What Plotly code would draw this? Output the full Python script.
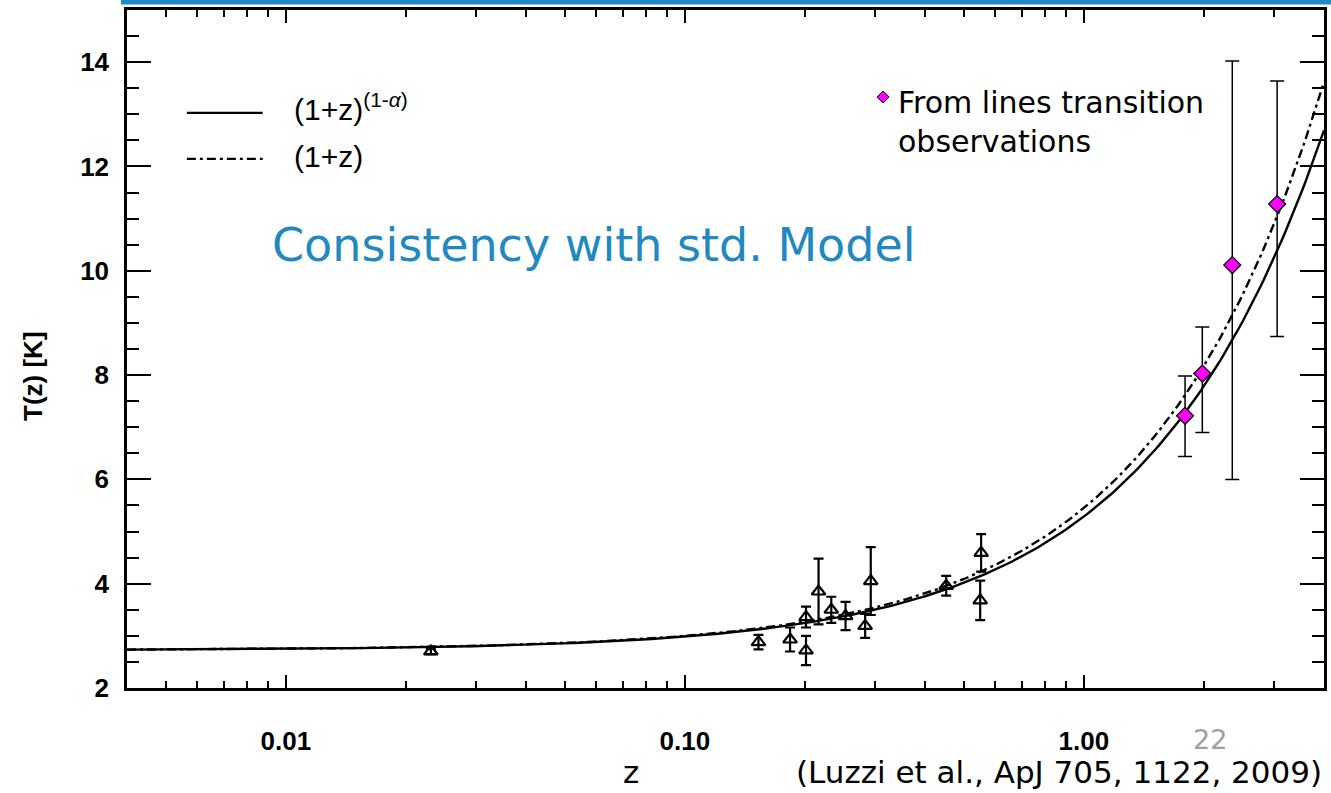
import numpy as np
import plotly.graph_objects as go

# ---- data ----
z_tri = [0.0231, 0.153, 0.1836, 0.2013, 0.2013, 0.2164, 0.2329, 0.2529, 0.2832, 0.2925, 0.452, 0.553, 0.550]
T_tri = [2.70, 2.88, 2.93, 3.36, 2.72, 3.85, 3.50, 3.38, 3.19, 4.05, 3.96, 4.59, 3.68]
err_tri = [0.05, 0.14, 0.23, 0.20, 0.28, 0.63, 0.25, 0.27, 0.23, 0.65, 0.19, 0.36, 0.38]

z_dia = [1.794, 1.982, 2.356, 3.052]
T_dia = [7.22, 8.03, 10.11, 11.28]
err_dia_plus = [0.76, 0.89, 3.91, 2.36]
err_dia_minus = [0.78, 1.13, 4.11, 2.54]

# model curves T(z) = T0 (1+z)^(1-alpha)
T0 = 2.725
ALPHA = 0.044
z_model = np.logspace(np.log10(0.004), np.log10(4.0), 400)
T_alpha = T0 * (1 + z_model) ** (1 - ALPHA)
T_std = T0 * (1 + z_model)

x_ticks = [0.01, 0.1, 1.0]
x_ticklabels = ["0.01", "0.10", "1.00"]
y_ticks = [2, 4, 6, 8, 10, 12, 14]

minor_x = [m * d for d in (0.001, 0.01, 0.1, 1.0) for m in range(2, 10) if 0.004 <= m * d <= 4.0]
minor_y = [v / 2 for v in range(4, 31) if v % 4 != 0]

fig = go.Figure()

fig.add_trace(go.Scatter(x=z_model, y=T_alpha, mode="lines",
                         line=dict(color="black", width=2.4), showlegend=False))
fig.add_trace(go.Scatter(x=z_model, y=T_std, mode="lines",
                         line=dict(color="black", width=2.4, dash="9px,4px,3px,4px"), showlegend=False))

fig.add_trace(go.Scatter(
    x=z_tri, y=T_tri, mode="markers",
    marker=dict(symbol="triangle-up-open", size=12, color="black", line=dict(width=2.2, color="black")),
    error_y=dict(type="data", array=err_tri, visible=True, color="black", thickness=2.2, width=5),
    showlegend=False))

fig.add_trace(go.Scatter(
    x=z_dia, y=T_dia, mode="markers",
    marker=dict(symbol="diamond", size=13, color="#FF00FF", line=dict(width=1.3, color="black")),
    error_y=dict(type="data", array=err_dia_plus, arrayminus=err_dia_minus, visible=True,
                 color="black", thickness=1.5, width=7),
    showlegend=False))

axis_font = dict(family="Liberation Sans, Arial, sans-serif", size=26, color="black", weight="bold")

fig.update_xaxes(
    type="log", range=[np.log10(0.004), np.log10(4.0)],
    tickvals=x_ticks, ticktext=x_ticklabels,
    ticks="inside", ticklen=13, tickwidth=2, tickcolor="black",
    minor=dict(tickvals=minor_x, ticks="inside", ticklen=7, tickwidth=2, tickcolor="black"),
    showline=True, linewidth=2.5, linecolor="black", mirror="allticks",
    showgrid=False, zeroline=False, tickfont=axis_font, ticklabelstandoff=28)

fig.update_yaxes(
    range=[2, 15], tickvals=y_ticks,
    ticks="inside", ticklen=24, tickwidth=2, tickcolor="black",
    minor=dict(tickvals=minor_y, ticks="inside", ticklen=12, tickwidth=2, tickcolor="black"),
    showline=True, linewidth=2.5, linecolor="black", mirror="allticks",
    showgrid=False, zeroline=False, tickfont=axis_font, ticklabelstandoff=10)

W, H = 1331, 793
L, R, T, B = 127, 4, 10, 104.5
pw, ph = W - L - R, H - T - B

def px(x):
    return (x - L) / pw

def py(y):
    return (H - B - y) / ph

shapes = []
# blue header bar
shapes.append(dict(type="line", xref="paper", yref="paper", x0=px(121), x1=px(1335), y0=py(2), y1=py(2),
                   line=dict(color="#1E8BC3", width=5)))
# legend lines
shapes.append(dict(type="line", xref="paper", yref="paper", x0=px(187), x1=px(263), y0=py(113), y1=py(113),
                   line=dict(color="black", width=2.4)))
shapes.append(dict(type="line", xref="paper", yref="paper", x0=px(187), x1=px(263), y0=py(159), y1=py(159),
                   line=dict(color="black", width=2.4, dash="9px,4px,3px,4px")))
# magenta bullet
cx, cy, hs = 885, 97, 6
shapes.append(dict(type="path", xref="paper", yref="paper",
                   path=f"M {px(cx-hs)},{py(cy)} L {px(cx)},{py(cy-hs)} L {px(cx+hs)},{py(cy)} L {px(cx)},{py(cy+hs)} Z",
                   fillcolor="#FF00FF", line=dict(color="black", width=1)))

annotations = [
    dict(text="(1+z)<sup>(1-<i>α</i>)</sup>", x=px(292), y=py(107), xref="paper", yref="paper",
         xanchor="left", yanchor="middle", showarrow=False,
         font=dict(family="Liberation Sans, Arial, sans-serif", size=30, color="black")),
    dict(text="(1+z)", x=px(292), y=py(157), xref="paper", yref="paper",
         xanchor="left", yanchor="middle", showarrow=False,
         font=dict(family="Liberation Sans, Arial, sans-serif", size=30, color="black")),
    dict(text="Consistency with std. Model", x=px(270), y=py(245), xref="paper", yref="paper",
         xanchor="left", yanchor="middle", showarrow=False,
         font=dict(family="DejaVu Sans, sans-serif", size=46, color="#2189C0")),
    dict(text="From lines transition<br>observations", x=px(898), y=py(122), xref="paper", yref="paper",
         xanchor="left", yanchor="middle", align="left", showarrow=False,
         font=dict(family="DejaVu Sans, sans-serif", size=30, color="black")),
    dict(text="T(z) [K]", x=px(32), y=py(376), xref="paper", yref="paper", textangle=-90,
         xanchor="center", yanchor="middle", showarrow=False,
         font=dict(family="Liberation Sans, Arial, sans-serif", size=26, color="black", weight="bold")),
    dict(text="22", x=px(1213), y=py(740), xref="paper", yref="paper",
         xanchor="center", yanchor="middle", showarrow=False,
         font=dict(family="DejaVu Sans, sans-serif", size=27, color="#A0A0A0")),
    dict(text="z", x=px(632), y=py(773), xref="paper", yref="paper",
         xanchor="center", yanchor="middle", showarrow=False,
         font=dict(family="DejaVu Sans, sans-serif", size=31, color="black")),
    dict(text="(Luzzi et al., ApJ 705, 1122, 2009)", x=px(1327), y=py(773), xref="paper", yref="paper",
         xanchor="right", yanchor="middle", showarrow=False,
         font=dict(family="DejaVu Sans, sans-serif", size=31, color="black")),
]

fig.update_layout(
    width=W, height=H, margin=dict(l=L, r=R, t=T, b=B),
    paper_bgcolor="white", plot_bgcolor="white",
    shapes=shapes, annotations=annotations, showlegend=False)

fig.write_html("out.html", config={"displayModeBar": False},
               post_script="document.body.style.margin='0px';document.body.style.overflow='hidden';")
